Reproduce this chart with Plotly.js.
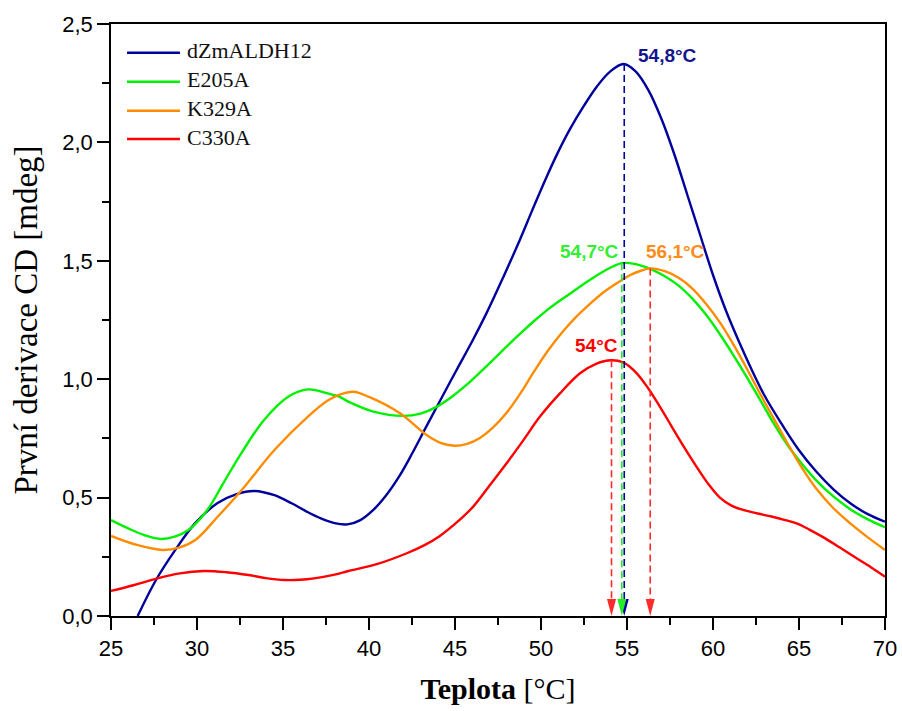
<!DOCTYPE html>
<html><head><meta charset="utf-8">
<script src="https://cdn.plot.ly/plotly-3.0.1.min.js"></script>
<style>html,body{margin:0;padding:0;background:#fff}</style>
</head><body><div id="chart" style="width:902px;height:711px"></div>
<script>
// ---------- data ----------
const seriesNames = ['dZmALDH12', 'E205A', 'K329A', 'C330A'];

const wtT = [26.55,27.6,28.7,29.87,31.2,32.3,33.35,34.5,35.5,36.4,37.2,38.0,38.75,39.5,40.25,41.0,41.8,42.5,43.26,44.1,45.1,46.0,46.84,47.8,48.78,49.5,50.33,51.0,51.7,52.5,53.24,54.0,54.8,55.5,56.25,57.0,57.75,58.5,59.25,60.0,60.75,61.5,62.25,63.0,64.0,65.0,66.0,67.0,68.0,69.0,70.0];
const wtV = [0.0,0.15,0.275,0.39,0.477,0.515,0.528,0.51,0.476,0.44,0.412,0.392,0.387,0.405,0.448,0.51,0.595,0.685,0.79,0.905,1.04,1.16,1.28,1.43,1.59,1.715,1.855,1.96,2.058,2.155,2.235,2.298,2.331,2.30,2.22,2.10,1.95,1.78,1.61,1.44,1.29,1.16,1.04,0.93,0.81,0.70,0.61,0.535,0.475,0.43,0.398];

const e205T = [25,26,27,27.9,28.7,29.5,30.6,31.6,32.6,33.9,35.3,36.45,37.6,38.3,38.8,40.25,42.0,43.0,43.9,44.8,45.7,46.5,47.3,48.1,48.9,49.7,50.5,51.3,52.1,52.9,53.8,54.7,55.5,56.34,57.2,58.0,58.8,59.6,60.4,61.2,62.0,62.8,63.6,64.4,65.2,66.0,67.0,68.0,69.0,70.0];
const e205V = [0.405,0.37,0.34,0.325,0.335,0.363,0.448,0.57,0.69,0.828,0.926,0.957,0.94,0.925,0.905,0.863,0.845,0.855,0.882,0.925,0.978,1.032,1.088,1.145,1.2,1.252,1.3,1.342,1.382,1.422,1.462,1.49,1.486,1.466,1.435,1.395,1.34,1.272,1.19,1.10,1.005,0.905,0.805,0.715,0.64,0.573,0.505,0.45,0.408,0.375];

const k329T = [25,26.5,28.0,29.0,29.9,31.2,32.6,34.5,36.45,37.6,38.3,39.1,40.0,41.8,43.35,44.2,45.0,45.7,46.45,47.2,48.0,48.8,49.6,50.4,51.2,52.0,52.8,53.6,54.4,55.2,55.8,56.34,57.2,58.0,58.8,59.6,60.4,61.2,62.0,62.8,63.6,64.4,65.2,66.0,67.0,68.0,69.0,70.0];
const k329V = [0.338,0.30,0.279,0.29,0.321,0.419,0.532,0.701,0.842,0.91,0.935,0.947,0.925,0.856,0.764,0.73,0.719,0.727,0.752,0.795,0.858,0.94,1.033,1.12,1.195,1.26,1.315,1.365,1.405,1.44,1.458,1.468,1.456,1.428,1.383,1.318,1.24,1.145,1.04,0.93,0.825,0.72,0.622,0.538,0.455,0.39,0.332,0.279];

const c330T = [25,26.3,27.5,29.0,30.4,31.7,33.0,34.0,35.1,36.0,36.8,38.0,38.8,40.5,42.2,43.2,44.1,45.1,46.06,47.0,48.0,49.0,49.94,51.1,52.27,53.2,54.07,54.8,55.5,56.2,56.9,57.6,58.3,59.0,59.7,60.4,61.1,61.8,62.6,63.4,64.2,64.9,65.6,66.4,67.4,68.35,69.2,70.0];
const c330V = [0.106,0.13,0.155,0.18,0.19,0.185,0.173,0.16,0.152,0.153,0.159,0.175,0.19,0.22,0.265,0.298,0.337,0.395,0.462,0.55,0.645,0.745,0.842,0.94,1.025,1.065,1.08,1.07,1.03,0.965,0.885,0.80,0.715,0.635,0.56,0.50,0.465,0.447,0.433,0.42,0.405,0.39,0.365,0.333,0.288,0.244,0.205,0.166];

// peak markers (temperature position of the arrow, height of the peak) and their labels
const peakT = [54.84, 54.7, 56.35, 54.1];
const peakV = [2.331, 1.49, 1.468, 1.08];
const peakLabels = ['54,8°C', '54,7°C', '56,1°C', '54°C'];

const xTicks = [25, 30, 35, 40, 45, 50, 55, 60, 65, 70];
const yTicks = [0, 0.5, 1.0, 1.5, 2.0, 2.5];

// ---------- styles ----------
const lineColors = ['#00009C', '#00F000', '#FF8C00', '#FF0000'];
const dashColors = ['#00009C', '#22EE22', '#FF2A2A', '#FF2A2A'];
const labelColors = ['#14148C', '#33EE33', '#FF8C1A', '#FF0000'];
const labelPos = [[57.35, 2.368], [52.84, 1.538], [57.80, 1.538], [53.23, 1.144]];

const seriesT = [wtT, e205T, k329T, c330T];
const seriesV = [wtV, e205V, k329V, c330V];

const traces = seriesNames.map((n, i) => ({
  type: 'scatter', mode: 'lines', name: n,
  x: seriesT[i], y: seriesV[i],
  line: {color: lineColors[i], width: 2.4, shape: 'spline', smoothing: 1},
  showlegend: false, hoverinfo: 'x+y+name'
}));

const shapes = [];
const annotations = [];

// dashed drop lines + arrowheads
peakT.forEach((t, i) => {
  shapes.push({type: 'line', xref: 'x', yref: 'y', x0: t, x1: t, y0: peakV[i], y1: 0.02,
    line: {color: dashColors[i], width: 1.6, dash: '7px,4px'}});
  shapes.push({type: 'path', xref: 'x', yref: 'y', xsizemode: 'pixel', ysizemode: 'pixel',
    xanchor: t, yanchor: 0, path: 'M-4.5,17 L4.5,17 L0,0 Z',
    fillcolor: dashColors[i], line: {width: 0}});
  annotations.push({xref: 'x', yref: 'y', x: labelPos[i][0], y: labelPos[i][1],
    text: '<b>' + peakLabels[i] + '</b>', showarrow: false, xanchor: 'center', yanchor: 'middle',
    font: {family: 'Liberation Sans, Arial, sans-serif', size: 19, color: labelColors[i]}});
});

// manual legend (long line samples as in the reference)
const legY = [0.9515, 0.9025, 0.8535, 0.8057];
seriesNames.forEach((n, i) => {
  shapes.push({type: 'line', xref: 'paper', yref: 'paper', x0: 0.0207, x1: 0.0891, y0: legY[i], y1: legY[i],
    line: {color: lineColors[i], width: 2.4}});
  annotations.push({xref: 'paper', yref: 'paper', x: 0.0956, y: legY[i], yshift: 2,
    text: n, showarrow: false, xanchor: 'left', yanchor: 'middle',
    font: {family: 'Liberation Serif, Times New Roman, serif', size: 22, color: '#111'}});
});

const axisFont = {family: 'Liberation Sans, Arial, sans-serif', size: 22, color: '#000'};
const xTitleFont = {family: 'Liberation Serif, Times New Roman, serif', size: 30, color: '#000'};
const yTitleFont = {family: 'Liberation Serif, Times New Roman, serif', size: 33, color: '#000'};

const layout = {
  width: 902, height: 711,
  margin: {l: 111, r: 17, t: 24, b: 95},
  paper_bgcolor: '#fff', plot_bgcolor: '#fff',
  separators: ', ',
  showlegend: false,
  xaxis: {
    range: [25, 70], tickvals: xTicks, ticktext: xTicks.map(String),
    ticks: 'outside', ticklen: 12, tickwidth: 1.5, tickcolor: '#000',
    minor: {dtick: 2.5, tick0: 25, ticks: 'outside', ticklen: 7, tickwidth: 1.5, tickcolor: '#000', showgrid: false},
    showline: true, mirror: true, linecolor: '#000', linewidth: 1.5,
    showgrid: false, zeroline: false, tickfont: axisFont,
    title: {text: '\u00a0\u00a0<b>Teplota</b> [°C]', font: xTitleFont, standoff: 18}
  },
  yaxis: {
    range: [0, 2.5], tickvals: yTicks, tickformat: '.1f',
    ticks: 'outside', ticklen: 12, tickwidth: 1.5, tickcolor: '#000',
    minor: {dtick: 0.25, tick0: 0, ticks: 'outside', ticklen: 7, tickwidth: 1.5, tickcolor: '#000', showgrid: false},
    showline: true, mirror: true, linecolor: '#000', linewidth: 1.5,
    showgrid: false, zeroline: false, tickfont: axisFont,
    title: {text: 'První derivace CD [mdeg]', font: yTitleFont, standoff: 15}
  },
  shapes: shapes,
  annotations: annotations
};

Plotly.newPlot('chart', traces, layout, {displayModeBar: false, responsive: false});
</script>
</body></html>
